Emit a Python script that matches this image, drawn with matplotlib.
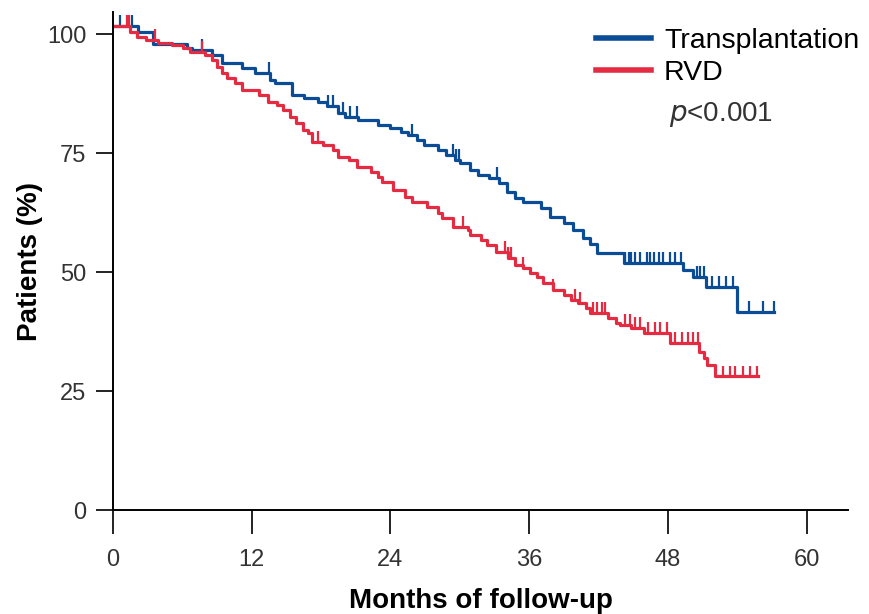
import numpy as np
import matplotlib
matplotlib.use('Agg')
import matplotlib.pyplot as plt

plt.rcParams['font.family'] = ['Liberation Sans', 'DejaVu Sans']

# Kaplan-Meier step data (months, % patients)
tx_times = [0, 2.2, 3.5, 6.4, 6.8, 8.6, 9.4, 11.2, 12.3, 13.6, 14.0, 15.5, 16.5, 17.7, 18.5,
            19.5, 20.1, 21.2, 22.9, 24.0, 24.9, 25.5, 26.3, 26.9, 28.1, 28.8, 29.6, 30.0,
            30.9, 31.6, 32.5, 33.4, 34.1, 34.8, 35.5, 37.0, 37.8, 39.0, 39.8, 40.7, 41.3,
            41.9, 44.2, 49.3, 50.2, 51.3, 54.0, 57.2]
tx_surv = [101.8, 100.4, 97.9, 97.0, 96.6, 95.6, 93.9, 92.9, 91.8, 90.3, 89.7, 87.2, 86.6,
           85.7, 85.0, 83.4, 82.6, 81.9, 80.9, 80.2, 79.4, 78.8, 77.7, 76.7, 75.6, 74.6,
           73.5, 72.9, 71.4, 70.4, 69.7, 68.7, 66.8, 65.5, 64.7, 63.4, 61.6, 60.3, 58.8,
           57.1, 56.0, 54.0, 51.9, 50.4, 48.9, 46.8, 41.6, 41.6]
tx_censor = [0.6, 1.3, 1.65, 7.7, 13.5, 18.6, 19.0, 19.9, 20.5, 21.1, 25.9, 29.4, 29.7,
             29.95, 33.25, 44.3, 44.6, 44.85, 45.2, 45.6, 46.2, 46.5, 46.8, 47.2, 47.6,
             48.2, 48.65, 49.1, 50.5, 50.8, 51.1, 51.85, 52.4, 53.0, 53.6, 55.0, 56.2, 57.15]

rvd_times = [0, 1.5, 2.1, 2.9, 3.9, 5.1, 6.1, 6.7, 8.0, 8.6, 9.0, 9.4, 9.9, 10.6, 11.2,
             12.6, 13.4, 14.2, 14.7, 15.3, 15.8, 16.4, 16.9, 17.2, 18.2, 19.0, 19.5, 20.4,
             21.1, 22.3, 22.9, 23.3, 24.2, 25.3, 25.9, 27.2, 28.1, 28.5, 29.4, 30.7, 30.9,
             31.8, 32.4, 33.1, 34.2, 34.8, 35.5, 36.1, 36.7, 37.2, 38.1, 39.0, 39.6, 40.2,
             40.9, 41.3, 42.8, 43.5, 43.9, 44.8, 45.9, 48.2, 50.7, 51.1, 51.4, 52.1, 55.8]
rvd_surv = [101.7, 100.4, 99.4, 98.7, 98.1, 97.7, 97.1, 96.2, 95.6, 94.5, 93.1, 91.8, 90.8,
            89.7, 88.2, 87.2, 85.7, 85.2, 84.0, 82.6, 81.3, 79.8, 79.2, 77.3, 76.7, 75.6,
            74.2, 73.5, 72.1, 71.0, 70.0, 68.9, 67.2, 65.8, 64.7, 63.7, 62.4, 61.3, 59.5,
            58.8, 57.8, 56.7, 55.7, 54.2, 52.9, 51.5, 50.8, 49.8, 49.0, 47.7, 46.2, 45.2,
            44.1, 43.5, 42.4, 41.4, 40.3, 39.3, 39.0, 38.3, 37.2, 35.1, 33.2, 31.9, 30.5,
            28.1, 28.1]
rvd_censor = [1.2, 1.4, 3.6, 7.7, 17.75, 30.3, 33.9, 34.2, 34.45, 35.5, 38.1, 40.0, 40.43,
              41.5, 41.9, 42.3, 42.6, 44.33, 44.76, 45.2, 45.63, 46.3, 46.9, 47.36, 47.97,
              48.66, 49.26, 49.78, 50.2, 50.6, 52.8, 53.4, 53.85, 54.5, 55.15, 55.75]

blue = '#0B4C97'
red = '#E52B41'

fig = plt.figure(figsize=(8.69, 6.14), dpi=100)
ax = fig.add_axes([0.130, 0.169, 0.846, 0.811])


def km(times, surv, censor, color, label):
    times = np.array(times)
    surv = np.array(surv)
    ax.step(times, surv, where='post', color=color, lw=2.3, label=label)
    c = np.array(censor)
    idx = np.searchsorted(times, c, side='right') - 1
    y = surv[idx]
    ax.vlines(c, y, y + 2.3, color=color, lw=1.6)


km(tx_times, tx_surv, tx_censor, blue, 'Transplantation')
km(rvd_times, rvd_surv, rvd_censor, red, 'RVD')

ax.set_xlim(0, 63.6)
ax.set_ylim(0, 104.6)
ax.set_xticks([0, 12, 24, 36, 48, 60])
ax.set_yticks([0, 25, 50, 75, 100])
ax.spines['top'].set_visible(False)
ax.spines['right'].set_visible(False)
for s in ['left', 'bottom']:
    ax.spines[s].set_linewidth(1.4)
ax.tick_params(axis='both', length=12, width=1.4, labelsize=17, pad=7,
               color='#222222', labelcolor='#333333')
ax.tick_params(axis='x', length=17, pad=11)

ax.set_xlabel('Months of follow-up', fontsize=20, fontweight='bold', labelpad=12)
ax.set_ylabel('Patients (%)', fontsize=20, fontweight='bold', labelpad=3)

leg = ax.legend(loc='upper right', bbox_to_anchor=(1.05, 1.02), frameon=False,
                fontsize=20.5, handlelength=1.95, handletextpad=0.45, labelspacing=0.2)
for line in leg.get_lines():
    line.set_linewidth(4)
ax.text(0.757, 0.795, r'$\it{p}$<0.001', transform=ax.transAxes, fontsize=20,
        ha='left', va='center', color='#333333')

fig.savefig('out.png', dpi=100)
